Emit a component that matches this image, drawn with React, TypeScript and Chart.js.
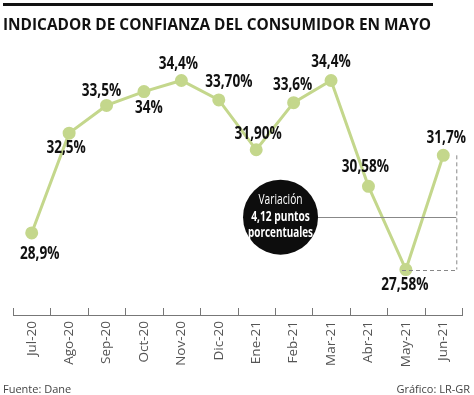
import React, { useEffect, useRef } from "react";
import { Chart, registerables } from "chart.js";

Chart.register(...registerables);

const categories = ["Jul-20", "Ago-20", "Sep-20", "Oct-20", "Nov-20", "Dic-20", "Ene-21", "Feb-21", "Mar-21", "Abr-21", "May-21", "Jun-21"];
const values = [28.9, 32.5, 33.5, 34.0, 34.4, 33.7, 31.9, 33.6, 34.4, 30.58, 27.58, 31.7];
const valueLabels = ["28,9%", "32,5%", "33,5%", "34%", "34,4%", "33,70%", "31,90%", "33,6%", "34,4%", "30,58%", "27,58%", "31,7%"];
const title = "INDICADOR DE CONFIANZA DEL CONSUMIDOR EN MAYO";
const source = "Fuente: Dane";
const credit = "Gráfico: LR-GR";
const noteLines = ["Variación", "4,12 puntos", "porcentuales"];

// label placement (dx, dy from point, px)
const labelOffsets: [number, number][] = [
  [8, 21], [-3, 15], [-5, -14], [5, 17], [-3, -16], [10, -18],
  [2, -16], [-1, -17], [0, -18], [-3, -19], [-1, 16], [3, -17],
];

const GREEN = "#c4d78c";
const SANS = "'Open Sans', 'Liberation Sans', sans-serif";

function condensedText(ctx: any, text: string, x: number, y: number, sx: number) {
  ctx.save();
  ctx.translate(x, y);
  ctx.scale(sx, 1);
  ctx.fillText(text, 0, 0);
  ctx.restore();
}

const decorPlugin = {
  id: "decor",
  afterDraw(chart: any) {
    const ctx = chart.ctx;
    const xs = chart.scales.x;
    const ys = chart.scales.y;
    const area = chart.chartArea;
    ctx.save();
    // top bar
    ctx.fillStyle = "#111";
    ctx.fillRect(3, 3, 430, 3);
    // title
    ctx.fillStyle = "#111";
    ctx.textBaseline = "alphabetic";
    ctx.textAlign = "left";
    ctx.font = `bold 16px ${SANS}`;
    const w = ctx.measureText(title).width;
    condensedText(ctx, title, 3, 30, 428 / w);

    // tick marks (upward)
    const n = categories.length;
    const step = (area.right - area.left) / n;
    ctx.strokeStyle = "#777";
    ctx.lineWidth = 1;
    for (let i = 0; i <= n; i++) {
      const x = Math.round(area.left + i * step) + 0.5;
      ctx.beginPath();
      ctx.moveTo(x, area.bottom - 7);
      ctx.lineTo(x, area.bottom);
      ctx.stroke();
    }

    // dashed guides
    const xJun = xs.getPixelForValue(11) + 13;
    const yHi = ys.getPixelForValue(values[11]);
    const yLo = ys.getPixelForValue(values[10]);
    ctx.strokeStyle = "#888";
    ctx.setLineDash([4, 3]);
    ctx.beginPath();
    ctx.moveTo(xJun + 0.5, yHi);
    ctx.lineTo(xJun + 0.5, yLo);
    ctx.moveTo(xs.getPixelForValue(9.95) - 2, Math.round(yLo) + 0.5);
    ctx.lineTo(xJun + 0.5, Math.round(yLo) + 0.5);
    ctx.stroke();
    ctx.setLineDash([]);

    // circle annotation
    const cx = xs.getPixelForValue(6.65);
    const cy = ys.getPixelForValue(29.47);
    ctx.strokeStyle = "#888";
    ctx.beginPath();
    ctx.moveTo(cx + 37, Math.round(cy) + 0.5);
    ctx.lineTo(xJun, Math.round(cy) + 0.5);
    ctx.stroke();
    ctx.fillStyle = "#0d0d0d";
    ctx.beginPath();
    ctx.arc(cx, cy, 37.5, 0, Math.PI * 2);
    ctx.fill();
    ctx.fillStyle = "#fff";
    ctx.textAlign = "center";
    ctx.textBaseline = "middle";
    ctx.font = `15px ${SANS}`;
    condensedText(ctx, noteLines[0], cx, cy - 17, 0.68);
    ctx.font = `bold 15px ${SANS}`;
    condensedText(ctx, noteLines[1], cx, cy, 0.68);
    condensedText(ctx, noteLines[2], cx, cy + 16, 0.66);

    // value labels
    const meta = chart.getDatasetMeta(0);
    ctx.fillStyle = "#111";
    ctx.font = `bold 17px ${SANS}`;
    meta.data.forEach((pt: any, i: number) => {
      const [dx, dy] = labelOffsets[i];
      condensedText(ctx, valueLabels[i], pt.x + dx, pt.y + dy, 0.8);
    });

    // footer
    ctx.fillStyle = "#444";
    ctx.font = `11px ${SANS}`;
    ctx.textBaseline = "alphabetic";
    ctx.textAlign = "left";
    ctx.fillText(source, 3, 393);
    ctx.textAlign = "right";
    ctx.fillText(credit, 470, 393);
    ctx.restore();
  },
};

export default function App() {
  const ref = useRef<HTMLCanvasElement | null>(null);
  useEffect(() => {
    if (!ref.current) return;
    const chart = new Chart(ref.current, {
      type: "line",
      data: {
        labels: categories,
        datasets: [
          {
            data: values,
            borderColor: GREEN,
            backgroundColor: GREEN,
            pointBackgroundColor: GREEN,
            pointBorderColor: GREEN,
            borderWidth: 3,
            pointRadius: 5,
            tension: 0,
          },
        ],
      },
      options: {
        animation: false,
        responsive: false,
        layout: { padding: { left: 13, right: 12, top: 40, bottom: 0 } },
        plugins: { legend: { display: false }, title: { display: false }, tooltip: { enabled: false } },
        scales: {
          x: {
            offset: true,
            grid: { display: false, drawTicks: false, offset: true },
            border: { display: true, color: "#777", width: 1 },
            ticks: {
              minRotation: 90,
              maxRotation: 90,
              padding: 6,
              color: "#555",
              font: { family: SANS, size: 13.5, weight: "normal" },
              autoSkip: false,
            },
            afterFit(scale: any) {
              scale.height = 80;
            },
          },
          y: { display: false, min: 25.94, max: 35.86 },
        },
      },
      plugins: [decorPlugin],
    });
    return () => chart.destroy();
  }, []);
  return (
    <div style={{ position: "fixed", left: 0, top: 0, width: 474, height: 395, background: "#fff" }}>
      <canvas ref={ref} width={474} height={395} style={{ width: 474, height: 395 }} />
    </div>
  );
}
